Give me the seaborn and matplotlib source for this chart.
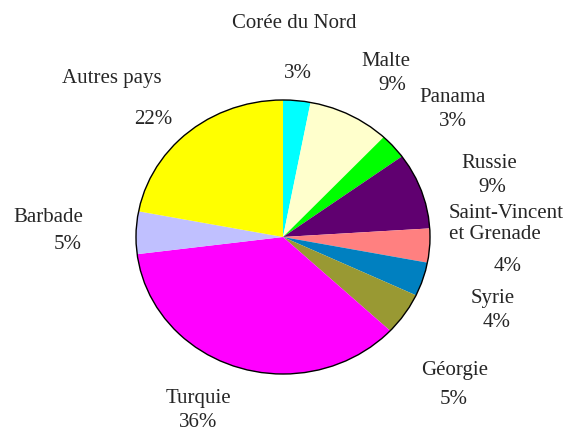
import matplotlib
matplotlib.use('Agg')
import matplotlib.pyplot as plt
import seaborn as sns

# Data
countries = ['Corée du Nord', 'Malte', 'Panama', 'Russie', 'Saint-Vincent\net Grenade',
             'Syrie', 'Géorgie', 'Turquie', 'Barbade', 'Autres pays']
shares = [3, 9, 3, 9, 4, 4, 5, 36, 5, 22]
colors = ['#00FFFF', '#FFFFCC', '#00FF00', '#600070', '#FF8080',
          '#0080C0', '#999933', '#FF00FF', '#C0C0FF', '#FFFF00']

# label centres (pixels from top-left): name, then percent
name_pos = [(294, 22), (386, 59), (453, 96), (489, 161), (449, 222),
            (493, 296), (455, 369), (198, 397), (48, 216), (112, 76)]
pct_pos = [(298, 72), (392, 83), (453, 119), (492, 186), (508, 265),
           (497, 321), (454, 398), (198, 421), (68, 243), (153, 118)]

W, H = 571, 431
DY = 2  # matplotlib centres text a little high compared with the reference

sns.set_style('white')
plt.rcParams['font.family'] = ['Liberation Serif', 'DejaVu Serif']

fig = plt.figure(figsize=(W / 100, H / 100), dpi=100)
# pie box in pixels: x 136-430, y 101-375
ax = fig.add_axes([136 / W, 1 - 375 / H, 294 / W, 274 / H])
ax.pie(shares, colors=colors, startangle=90, counterclock=False,
       wedgeprops={'linewidth': 0, 'clip_on': False})
ax.add_patch(plt.Circle((0, 0), 1, fill=False, lw=1, ec='black', clip_on=False))
ax.set_aspect('auto')
ax.set_xlim(-1, 1)
ax.set_ylim(-1, 1)
ax.axis('off')

for name, (x, y) in zip(countries, name_pos):
    if '\n' in name:
        fig.text(x / W, 1 - (y + DY) / H, name, ha='left', va='center', fontsize=15,
                 linespacing=1.15)
    else:
        fig.text(x / W, 1 - (y + DY) / H, name, ha='center', va='center', fontsize=15)
for v, (x, y) in zip(shares, pct_pos):
    fig.text(x / W, 1 - (y + DY) / H, f'{v}%', ha='center', va='center', fontsize=15)

fig.savefig('out.png', dpi=100, facecolor='white')
